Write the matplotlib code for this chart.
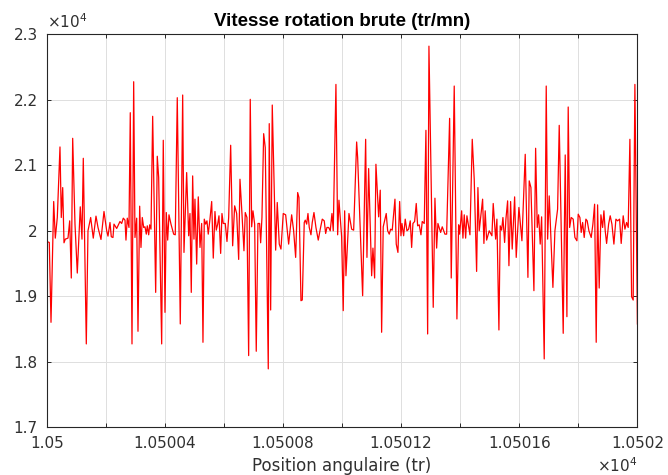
import matplotlib
matplotlib.use("Agg")
import matplotlib.pyplot as plt
import numpy as np

plt.rcParams['font.family'] = ['DejaVu Sans']
plt.rcParams['mathtext.fontset'] = 'dejavusans'

# Position angulaire (tr)
position = [
    10500.0000, 10500.0088, 10500.0146, 10500.0237, 10500.0291, 10500.0359, 10500.0450, 10500.0494,
    10500.0542, 10500.0586, 10500.0630, 10500.0721, 10500.0779, 10500.0833, 10500.0880, 10500.0958,
    10500.1036, 10500.1137, 10500.1195, 10500.1239, 10500.1341, 10500.1398, 10500.1489, 10500.1577,
    10500.1669, 10500.1737, 10500.1838, 10500.1940, 10500.2031, 10500.2075, 10500.2143, 10500.2187,
    10500.2244, 10500.2278, 10500.2370, 10500.2447,
    10500.2481, 10500.2539, 10500.2593, 10500.2651, 10500.2684, 10500.2728, 10500.2786, 10500.2830,
    10500.2888, 10500.2945, 10500.2989, 10500.3047, 10500.3091, 10500.3148, 10500.3192, 10500.3236,
    10500.3284, 10500.3328, 10500.3372, 10500.3405, 10500.3453, 10500.3487, 10500.3531, 10500.3588,
    10500.3690, 10500.3744, 10500.3791, 10500.3893, 10500.3947, 10500.4005, 10500.4049, 10500.4096,
    10500.4140, 10500.4208, 10500.4299, 10500.4353, 10500.4421, 10500.4523, 10500.4604, 10500.4648,
    10500.4739, 10500.4807, 10500.4851, 10500.4895, 10500.4942, 10500.4986,
    10500.5020, 10500.5078, 10500.5132, 10500.5190, 10500.5247, 10500.5291, 10500.5335, 10500.5382,
    10500.5426, 10500.5470, 10500.5528, 10500.5586, 10500.5640, 10500.5697, 10500.5741, 10500.5789,
    10500.5833, 10500.5890, 10500.5934, 10500.5978, 10500.6046, 10500.6104, 10500.6161, 10500.6229,
    10500.6296, 10500.6364, 10500.6432, 10500.6500, 10500.6544, 10500.6611, 10500.6679, 10500.6723,
    10500.6780, 10500.6838, 10500.6892, 10500.6940, 10500.6984, 10500.7041, 10500.7095, 10500.7153,
    10500.7210, 10500.7244, 10500.7288, 10500.7346, 10500.7400, 10500.7502, 10500.7535,
    10500.7583, 10500.7637, 10500.7752, 10500.7806, 10500.7874, 10500.7932, 10500.8009, 10500.8091,
    10500.8192, 10500.8294, 10500.8361, 10500.8429, 10500.8497, 10500.8541, 10500.8609, 10500.8653,
    10500.8720, 10500.8754, 10500.8802, 10500.8846, 10500.8890, 10500.8947, 10500.8991, 10500.9049,
    10500.9116, 10500.9194, 10500.9262, 10500.9330, 10500.9397, 10500.9445, 10500.9489, 10500.9546,
    10500.9600, 10500.9658, 10500.9702, 10500.9793, 10500.9851, 10500.9895, 10500.9986, 10501.0040,
    10501.0088,
    10501.0132, 10501.0234, 10501.0325, 10501.0393, 10501.0494, 10501.0528, 10501.0697, 10501.0799,
    10501.0843, 10501.0900, 10501.1002, 10501.1046, 10501.1103, 10501.1147, 10501.1239, 10501.1293,
    10501.1340, 10501.1394, 10501.1496, 10501.1544, 10501.1598, 10501.1645, 10501.1699, 10501.1791,
    10501.1835, 10501.1892, 10501.1950, 10501.1994, 10501.2028, 10501.2085, 10501.2139, 10501.2197,
    10501.2254, 10501.2309, 10501.2356, 10501.2400, 10501.2458, 10501.2512, 10501.2559, 10501.2613,
    10501.2671, 10501.2715, 10501.2783, 10501.2840, 10501.2898, 10501.2942, 10501.3087, 10501.3145,
    10501.3202, 10501.3246, 10501.3338, 10501.3392, 10501.3483, 10501.3541, 10501.3642, 10501.3697,
    10501.3798, 10501.3889, 10501.3947, 10501.3981, 10501.4049, 10501.4093, 10501.4137, 10501.4184,
    10501.4228, 10501.4330, 10501.4408, 10501.4475, 10501.4556, 10501.4600, 10501.4644, 10501.4759,
    10501.4803, 10501.4847, 10501.4895, 10501.4983, 10501.5074, 10501.5118,
    10501.5200, 10501.5243, 10501.5311, 10501.5355, 10501.5403, 10501.5447, 10501.5504, 10501.5548,
    10501.5606, 10501.5650, 10501.5707, 10501.5761, 10501.5843, 10501.5897, 10501.5988, 10501.6090,
    10501.6202, 10501.6293, 10501.6337, 10501.6395, 10501.6496, 10501.6554, 10501.6608, 10501.6655,
    10501.6709, 10501.6757, 10501.6845, 10501.6913, 10501.6960, 10501.7014, 10501.7139, 10501.7207,
    10501.7298, 10501.7353, 10501.7488, 10501.7556, 10501.7613, 10501.7657,
    10501.7705, 10501.7759, 10501.7826, 10501.7884, 10501.7952, 10501.7996, 10501.8053, 10501.8097,
    10501.8145, 10501.8199, 10501.8256, 10501.8300, 10501.8358, 10501.8436, 10501.8493, 10501.8551,
    10501.8605, 10501.8652, 10501.8706, 10501.8764, 10501.8822, 10501.8866, 10501.8910, 10501.8957,
    10501.9025, 10501.9079, 10501.9137, 10501.9204, 10501.9272, 10501.9330, 10501.9397, 10501.9451,
    10501.9519, 10501.9577, 10501.9634, 10501.9688, 10501.9746, 10501.9803, 10501.9857, 10501.9915,
    10502.0000,
]

# Vitesse rotation brute (tr/mn)
vitesse = [
    19837, 19822, 18603, 20447, 19888, 20203, 21280, 20203,
    20660, 19817, 19873, 19888, 20152, 19279, 21412, 20102,
    19355, 20366, 19873, 21107, 18273, 20000, 20203, 19888,
    20224, 20051, 19868, 20295, 20000, 19919, 20127, 19909,
    19898, 20102, 20036, 20112,
    20142, 20112, 20193, 20163, 19858, 20193, 20051, 21803,
    18273, 22276, 19898, 20193, 18466, 20376, 19746, 20203,
    20051, 20061, 19949, 20076, 19939, 20091, 20025, 21748,
    19060, 21138, 20813, 18273, 21382, 18755, 20279, 19858,
    20244, 20102, 19949, 19939, 22032, 18578, 22073, 19670,
    20889, 19924, 20264, 19060, 20838, 19873,
    20483, 19492, 20518, 19746, 20112, 18298, 20178, 20102,
    20152, 19949, 20178, 20447, 19583, 20295, 20010, 20102,
    20229, 19655, 20264, 20112, 20112, 19837, 20203, 21306,
    19771, 20381, 20264, 19563, 20787, 20264, 19695, 20279,
    20203, 18095, 22007, 20061, 20305, 20102, 18161, 20112,
    20112, 19817, 20203, 21483, 21270, 17892, 21636,
    18791, 21920, 19705, 20432, 19797, 19721, 20264, 20244,
    19797, 20244, 20000, 19594, 20584, 20508, 18933, 18943,
    20127, 20163, 20102, 20264, 20051, 19939, 20127, 20279,
    20051, 19858, 20025, 20178, 20152, 19959, 20051, 20051,
    20000, 20264, 20000, 22235, 19939, 20467, 19909, 18781,
    20305,
    19314, 20264, 20025, 20010, 21356, 21118, 19009, 21397,
    19594, 20950, 19314, 19736, 19279, 21016, 20213, 20620,
    18451, 20061, 20264, 20000, 19949, 20025, 20010, 20483,
    19797, 19670, 20447, 19924, 20112, 19924, 20178, 20000,
    20025, 20152, 19746, 20112, 20142, 20417, 20076, 20091,
    19939, 20142, 20112, 21534, 18425, 22819, 18832, 20498,
    19736, 20112, 19975, 20061, 19949, 19949, 21717, 19279,
    22210, 18654, 20091, 19949, 20305, 19888, 20244, 19888,
    20229, 19939, 21397, 20787, 19380, 20660, 20000, 20483,
    19807, 20305, 19858, 20000, 19924, 20417,
    19873, 20178, 18486, 20076, 20010, 20203, 19822, 20178,
    20457, 19467, 20447, 19721, 20518, 19594, 20356, 19848,
    21168, 19289, 20762, 20660, 19086, 21260, 20051, 20244,
    19797, 20213, 18044, 22210, 19873, 20533, 19136, 20000,
    20330, 21610, 18435, 21158, 18689, 21890,
    20051, 20203, 20178, 19898, 19848, 20254, 20203, 19975,
    20127, 19898, 20178, 20152, 20000, 19898, 20102, 20406,
    18298, 20396, 19126, 20244, 20051, 20305, 20000, 19807,
    20102, 20229, 20102, 19797, 20178, 20152, 20178, 19807,
    20229, 20025, 20127, 20051, 21397, 18994, 18943, 22235,
    18578,
]

x_ticks = [10500.0, 10500.2, 10500.4, 10500.6, 10500.8, 10501.0,
           10501.2, 10501.4, 10501.6, 10501.8, 10502.0]
x_tick_labels = ['1.05', '', '1.05004', '', '1.05008', '', '1.05012', '',
                 '1.05016', '', '1.0502']
y_ticks = [17000, 18000, 19000, 20000, 21000, 22000, 23000]
y_tick_labels = ['1.7', '1.8', '1.9', '2', '2.1', '2.2', '2.3']

title = 'Vitesse rotation brute (tr/mn)'
xlabel = 'Position angulaire (tr)'
exponent = r'$\times10^{4}$'

fig = plt.figure(figsize=(6.68, 4.75), dpi=100)
ax = fig.add_axes([0.0699, 0.1004, 0.8843, 0.8274])

ax.plot(position, vitesse, color='#ff0000', lw=0.9)

ax.set_xlim(10500, 10502)
ax.set_ylim(17000, 23000)
ax.set_xticks(x_ticks)
ax.set_xticklabels(x_tick_labels)
ax.set_yticks(y_ticks)
ax.set_yticklabels(y_tick_labels)

txtc = '#303030'
ax.grid(True, color='#dfdfdf', lw=0.7)
ax.set_axisbelow(True)
for s in ax.spines.values():
    s.set_color('#262626')
    s.set_linewidth(0.8)
ax.tick_params(axis='both', which='both', direction='in', length=3, width=0.7,
               color='#262626', labelcolor=txtc, labelsize=11,
               top=True, right=True)
ax.tick_params(axis='x', pad=6.3)
ax.tick_params(axis='y', pad=6.5)

ax.set_title(title, fontsize=13.5, fontweight='bold', color='black', pad=6,
             family=['Liberation Sans', 'DejaVu Sans'])
ax.set_xlabel(xlabel, fontsize=12, color=txtc)
ax.xaxis.set_label_coords(0.5, -0.0756)

ax.text(0.0, 1.017, exponent, transform=ax.transAxes, ha='left', va='baseline',
        fontsize=11, color=txtc)
fig.text(637.4 / 668, 2.5 / 475, exponent, ha='right', va='baseline',
         fontsize=11, color=txtc)

fig.savefig('out.png', dpi=100)
